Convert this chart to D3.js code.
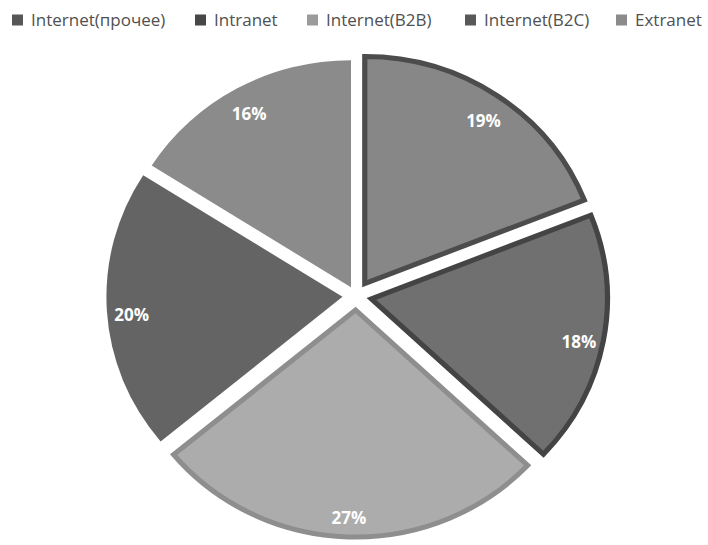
<!DOCTYPE html>
<html>
<head>
<meta charset="utf-8">
<script src="https://cdn.jsdelivr.net/npm/d3@7"></script>
<style>
  body { margin: 0; background: #fff; }
  svg { display: block; }
</style>
</head>
<body>
<div id="chart"></div>
<script>
// data
var categories = ["Internet(прочее)", "Intranet", "Internet(B2B)", "Internet(B2C)", "Extranet"];
var values = [19, 18, 27, 20, 16];

// styles (grayscale)
var fills   = ["#878787", "#707070", "#acacac", "#646464", "#8b8b8b"];
var borders = ["#4c4c4c", "#444444", "#8e8e8e", "#646464", "#8b8b8b"];
var borderW = [5, 5, 5, 0, 0];
var legendColors = ["#575757", "#474747", "#9b9b9b", "#585858", "#8b8b8b"];
var explode = [15, 15, 14, 13, 10];

var width = 708, height = 545;
var cx = 356, cy = 296, radius = 227, stretchX = 1.04;

var svg = d3.select("#chart").append("svg")
    .attr("width", width)
    .attr("height", height);

// legend
var legendX = [12, 195, 307, 465, 616];
var legend = svg.append("g").attr("class", "legend");
var item = legend.selectAll("g")
    .data(categories)
  .enter().append("g")
    .attr("transform", function(d, i) { return "translate(" + legendX[i] + ",20)"; });

item.append("rect")
    .attr("x", 0)
    .attr("y", -5.5)
    .attr("width", 11)
    .attr("height", 11)
    .attr("fill", function(d, i) { return legendColors[i]; });

item.append("text")
    .attr("x", 19)
    .attr("y", 0)
    .attr("dy", "0.35em")
    .attr("font-family", "'Open Sans', sans-serif")
    .attr("font-size", "17px")
    .attr("fill", "#505050")
    .text(function(d) { return d; });

// pie
var pie = d3.pie().sort(null).value(function(d) { return d; });
var arcs = pie(values);

var arc = d3.arc().innerRadius(0).outerRadius(radius);

var g = svg.append("g")
    .attr("transform", "translate(" + cx + "," + cy + ") scale(" + stretchX + ",1)");

var slice = g.selectAll(".slice")
    .data(arcs)
  .enter().append("g")
    .attr("class", "slice")
    .attr("transform", function(d, i) {
        var mid = (d.startAngle + d.endAngle) / 2;
        return "translate(" + (Math.sin(mid) * explode[i]) + "," + (-Math.cos(mid) * explode[i]) + ")";
    });

slice.append("path")
    .attr("d", arc)
    .attr("fill", function(d, i) { return fills[i]; })
    .attr("stroke", function(d, i) { return borders[i]; })
    .attr("stroke-width", function(d, i) { return borderW[i]; })
    .attr("stroke-linejoin", "miter");

// percent labels, drawn unscaled
var labelR = 0.895 * radius;
svg.append("g").selectAll("text")
    .data(arcs)
  .enter().append("text")
    .attr("x", function(d, i) {
        var mid = (d.startAngle + d.endAngle) / 2;
        return cx + stretchX * Math.sin(mid) * (labelR + explode[i]);
    })
    .attr("y", function(d, i) {
        var mid = (d.startAngle + d.endAngle) / 2;
        return cy + 5 - Math.cos(mid) * (labelR + explode[i]);
    })
    .attr("text-anchor", "middle")
    .attr("dy", "0.35em")
    .attr("font-family", "'Open Sans', sans-serif")
    .attr("font-size", "17px")
    .attr("font-weight", "bold")
    .attr("fill", "#fff")
    .text(function(d) { return d.data + "%"; });
</script>
</body>
</html>
